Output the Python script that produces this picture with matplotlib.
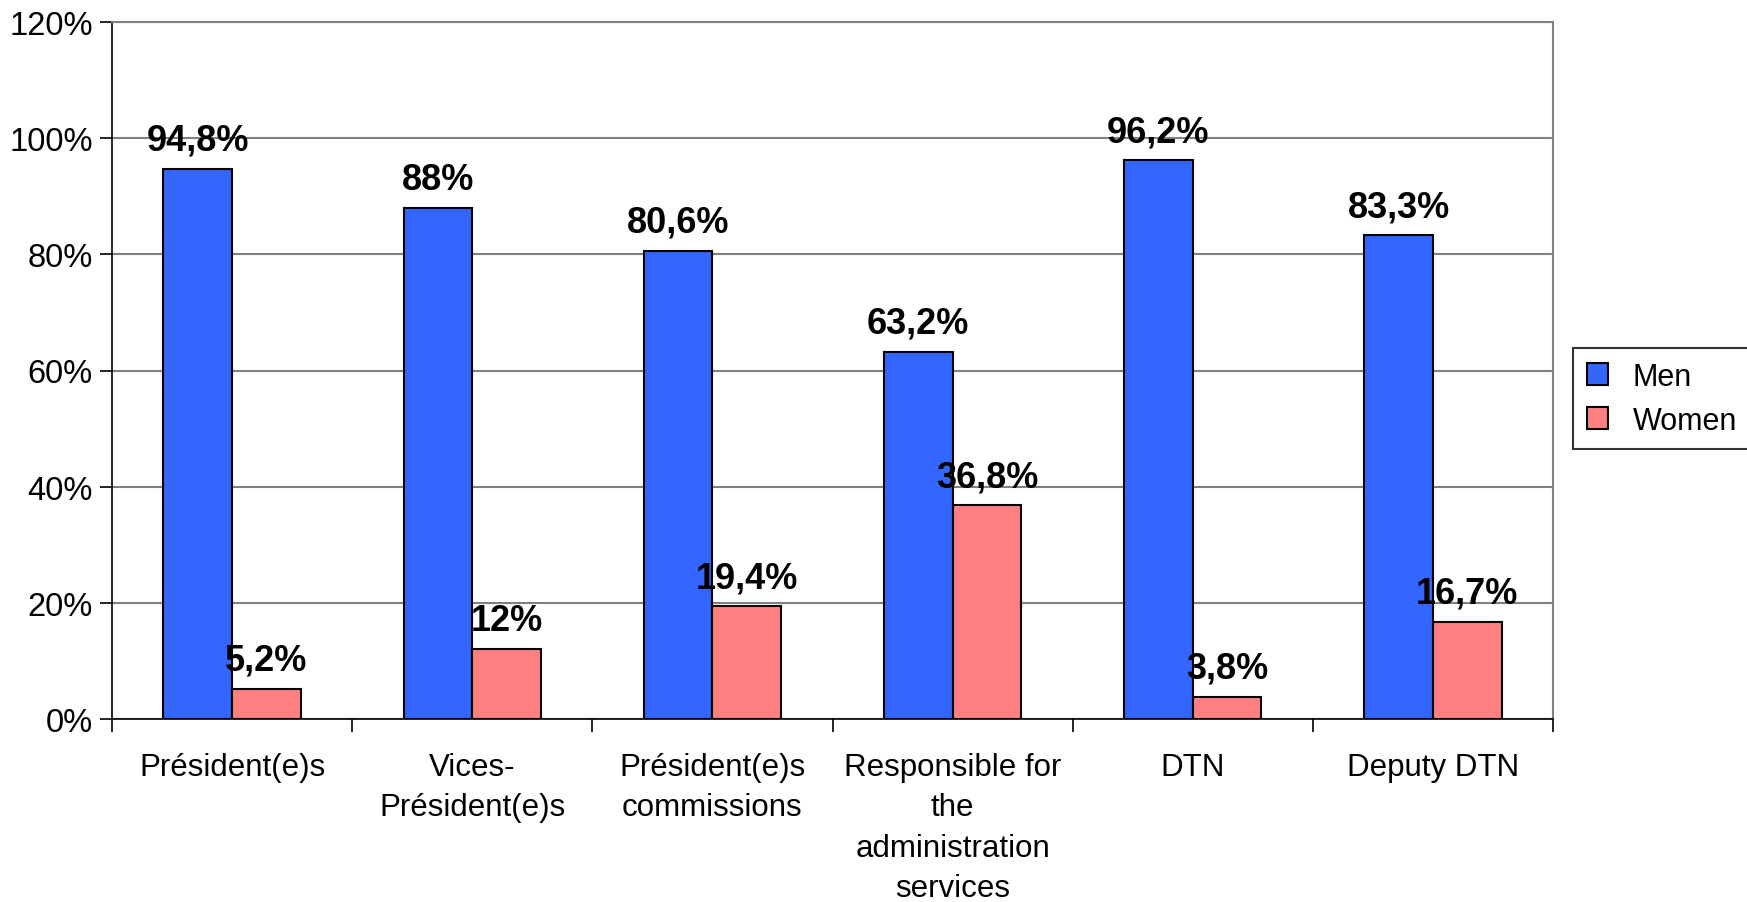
import matplotlib
matplotlib.use('Agg')
import matplotlib.pyplot as plt
import numpy as np
from matplotlib.ticker import FuncFormatter

plt.rcParams['font.family'] = ['Liberation Sans', 'DejaVu Sans']

categories = ['Président(e)s', 'Vices-\nPrésident(e)s', 'Président(e)s\ncommissions',
              'Responsible for\nthe\nadministration\nservices', 'DTN', 'Deputy DTN']
men = [94.8, 88, 80.6, 63.2, 96.2, 83.3]
women = [5.2, 12, 19.4, 36.8, 3.8, 16.7]
men_labels = ['94,8%', '88%', '80,6%', '63,2%', '96,2%', '83,3%']
women_labels = ['5,2%', '12%', '19,4%', '36,8%', '3,8%', '16,7%']

W, H = 1747, 903
fig = plt.figure(figsize=(W / 100, H / 100), dpi=100)
ax = fig.add_axes([112 / W, 1 - 719.7 / H, (1553 - 112) / W, (719.7 - 23.3) / H])

x = np.arange(len(categories))
bw = 1 / 3.5
bars_m = ax.bar(x - bw / 2, men, bw, color='#3366FF', edgecolor='black', linewidth=1.5,
                label='Men', zorder=3)
bars_w = ax.bar(x + bw / 2, women, bw, color='#FF8080', edgecolor='black', linewidth=1.5,
                label='Women', zorder=3)

for bars, labs in ((bars_m, men_labels), (bars_w, women_labels)):
    for b, t in zip(bars, labs):
        ax.annotate(t, (b.get_x() + b.get_width() / 2, b.get_height()),
                    xytext=(0, 8), textcoords='offset points', ha='center', va='bottom',
                    fontsize=26, fontweight='bold', zorder=5)

ax.set_xlim(-0.5, len(categories) - 0.5)
ax.set_ylim(0, 120)
ax.set_yticks(np.arange(0, 121, 20))
ax.yaxis.set_major_formatter(FuncFormatter(lambda v, p: f'{v:.0f}%'))
ax.yaxis.grid(True, color='#808080', linewidth=1.5, zorder=0)
ax.set_axisbelow(True)

ax.set_xticks(np.arange(-0.5, len(categories), 1))
ax.set_xticklabels([])
ax.set_xticks(x, minor=True)
ax.set_xticklabels(categories, minor=True, fontsize=22.5, linespacing=1.45)
ax.tick_params(axis='x', which='minor', length=0, pad=24)
ax.tick_params(axis='x', which='major', length=9, width=1.2, direction='out')
ax.tick_params(axis='y', length=9, width=1.2, labelsize=23.5, pad=5)

for s in ('top', 'right'):
    ax.spines[s].set_color('#808080')
    ax.spines[s].set_linewidth(1.5)
for s in ('left', 'bottom'):
    ax.spines[s].set_color('black')
    ax.spines[s].set_linewidth(1.2)

leg = fig.legend(loc='upper left', bbox_to_anchor=(1573 / W, 1 - 349 / H), borderaxespad=0,
                 fontsize=22, frameon=True, fancybox=False, edgecolor='black',
                 handlelength=0.7, handleheight=0.7, handletextpad=0.8,
                 borderpad=0.45, labelspacing=0.45)
leg.get_frame().set_linewidth(1.5)

fig.savefig('out.png', dpi=100)
